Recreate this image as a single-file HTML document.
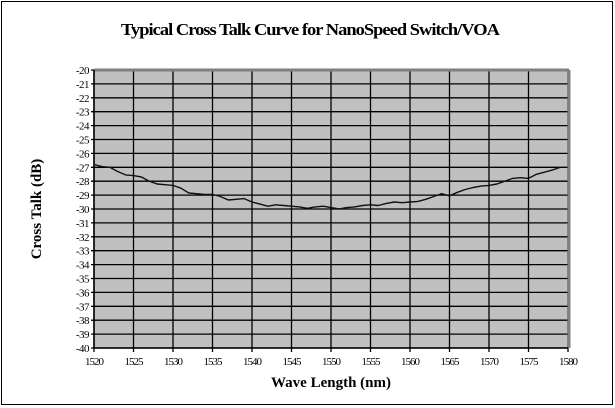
<!DOCTYPE html>
<html><head><meta charset="utf-8"><style>
body{margin:0;background:#fff;}
svg{display:block;font-family:"Liberation Serif",serif;}
</style></head><body>
<svg width="615" height="408">
<rect x="1.5" y="1.5" width="611" height="403" fill="#fff" stroke="#000"/>
<text x="310" y="35" text-anchor="middle" font-size="17" font-weight="bold" letter-spacing="-0.9" textLength="378" lengthAdjust="spacingAndGlyphs">Typical Cross Talk Curve  for NanoSpeed Switch/VOA</text>
<text transform="translate(41,209) rotate(-90)" text-anchor="middle" font-size="15" font-weight="bold">Cross Talk (dB)</text>
<text x="331" y="387" text-anchor="middle" font-size="15" font-weight="bold">Wave Length (nm)</text>
<g id="plot"></g>
</svg>
<script>
const wavelengths=[1520,1521,1522,1523,1524,1525,1526,1527,1528,1529,1530,1531,1532,1533,1534,1535,1536,1537,1538,1539,1540,1541,1542,1543,1544,1545,1546,1547,1548,1549,1550,1551,1552,1553,1554,1555,1556,1557,1558,1559,1560,1561,1562,1563,1564,1565,1566,1567,1568,1569,1570,1571,1572,1573,1574,1575,1576,1577,1578,1579];
const crossTalk=[-26.8,-26.95,-27.0,-27.3,-27.55,-27.6,-27.7,-28.0,-28.2,-28.25,-28.3,-28.5,-28.85,-28.9,-28.95,-28.95,-29.1,-29.35,-29.3,-29.25,-29.5,-29.65,-29.8,-29.7,-29.75,-29.8,-29.85,-29.95,-29.85,-29.8,-29.9,-30.0,-29.9,-29.85,-29.75,-29.7,-29.75,-29.6,-29.5,-29.55,-29.5,-29.45,-29.3,-29.1,-28.9,-29.05,-28.8,-28.6,-28.45,-28.35,-28.3,-28.2,-28.0,-27.8,-27.75,-27.8,-27.5,-27.35,-27.2,-27.0];
const xTicks=[1520,1525,1530,1535,1540,1545,1550,1555,1560,1565,1570,1575,1580];
const yTicks=[-20,-21,-22,-23,-24,-25,-26,-27,-28,-29,-30,-31,-32,-33,-34,-35,-36,-37,-38,-39,-40];
const L=94,R=568,T=70,B=348,X0=1520,X1=1580,Y0=-40,Y1=-20;
const sx=v=>L+(v-X0)/(X1-X0)*(R-L);
const sy=v=>B-(v-Y0)/(Y1-Y0)*(B-T);
const NS='http://www.w3.org/2000/svg';
const g=document.getElementById('plot');
function mk(t,a){const e=document.createElementNS(NS,t);for(const k in a)e.setAttribute(k,a[k]);g.appendChild(e);return e;}
let e=mk('rect',{x:L,y:T,width:R-L,height:B-T,fill:'#c0c0c0'});


yTicks.forEach(v=>{const y=sy(v);
 let l=mk('line',{x1:L-3,x2:R,y1:y,y2:y,stroke:'#000','stroke-width':1.3});
 
 
 let t=mk('text',{x:L-5,y:y+4,'text-anchor':'end','font-size':11,'letter-spacing':'-0.5'});t.textContent=v;
 
 
});
xTicks.forEach(v=>{const x=sx(v);
 let l=mk('line',{x1:x,x2:x,y1:T,y2:B+4,stroke:'#000','stroke-width':1.3});
 
 
 let t=mk('text',{x:x,y:B+17,'text-anchor':'middle','font-size':11,'letter-spacing':'-1'});t.textContent=v;
 
 
});
e=mk('line',{x1:L,x2:R+1,y1:T,y2:T,stroke:'#808080','stroke-width':3});


e=mk('line',{x1:R+1,x2:R+1,y1:T,y2:B,stroke:'#808080','stroke-width':3});


e=mk('line',{x1:L,x2:L,y1:T,y2:B,stroke:'#000','stroke-width':1.5});


e=mk('line',{x1:L,x2:R,y1:B,y2:B,stroke:'#000','stroke-width':1.5});


const d=wavelengths.map((w,i)=>(i?'L':'M')+sx(w).toFixed(1)+','+sy(crossTalk[i]).toFixed(1)).join('');
e=mk('path',{d:d,fill:'none',stroke:'#111','stroke-width':1.4,'stroke-linejoin':'round'});


</script>
</body></html>
